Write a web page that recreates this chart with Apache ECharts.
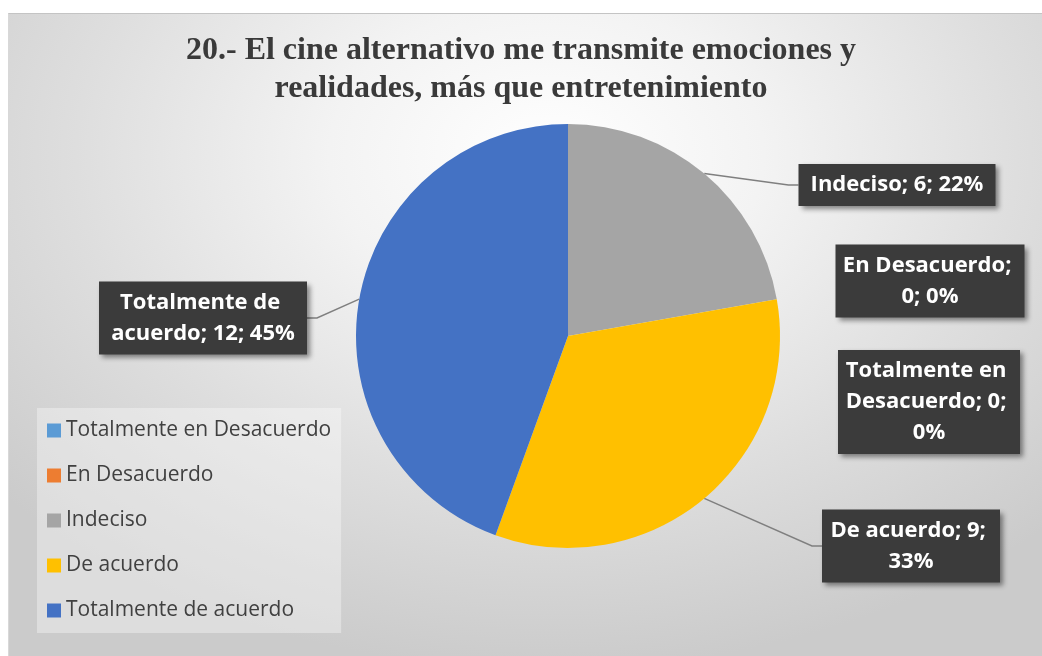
<!DOCTYPE html>
<html>
<head>
<meta charset="utf-8">
<script src="https://cdn.jsdelivr.net/npm/echarts@6/dist/echarts.min.js"></script>
<style>
    html, body { margin: 0; padding: 0; background: #fff; }
    #bg {
        position: absolute; left: 8px; top: 13px; width: 1034px; height: 643px;
        border-top: 1px solid #c4c4c4; border-left: 1px solid #d8d8d8;
        background: radial-gradient(ellipse 70% 80% at 52% 22%, #ffffff 0%, #f3f3f3 30%, #dedede 65%, #cbcbcb 100%);
    }
    #pieChart { position: absolute; left: 0; top: 0; width: 1042px; height: 656px; }
</style>
</head>
<body>
<div id="bg"></div>
<div id="pieChart"></div>
<script>
    // categories and counts
    const categories = ['Totalmente en Desacuerdo', 'En Desacuerdo', 'Indeciso', 'De acuerdo', 'Totalmente de acuerdo']
    const counts = [0, 0, 6, 9, 12]
    const colors = ['#5B9BD5', '#ED7D31', '#A5A5A5', '#FFC000', '#4472C4']
    // where each data label box sits (center) and how wide its text is
    const labelPos = [[929, 402], [930, 281], [897, 185], [911, 546], [203, 318]]
    const labelWidth = [172, 179, 187, 168, 198]

    const myChart = echarts.init(document.getElementById('pieChart'))
    const option = {
        color: colors,
        title: {
            text: '20.- El cine alternativo me transmite emociones y\nrealidades, más que entretenimiento',
            left: 'center',
            top: 27,
            textStyle: {
                fontFamily: 'Liberation Serif',
                fontWeight: 'bold',
                fontSize: 32,
                lineHeight: 38,
                color: '#3a3a3a'
            }
        },
        legend: {
            orient: 'vertical',
            left: 37,
            top: 408,
            padding: [12, 10, 12, 10],
            itemGap: 24,
            itemWidth: 14,
            itemHeight: 14,
            icon: 'rect',
            backgroundColor: 'rgba(255,255,255,0.35)',
            data: categories,
            textStyle: {
                fontFamily: 'Open Sans',
                fontSize: 21,
                lineHeight: 21,
                color: '#404040'
            }
        },
        series: [{
            type: 'pie',
            center: [568, 336],
            radius: 212,
            startAngle: 90,
            clockwise: true,
            animation: false,
            percentPrecision: 0,
            data: categories.map((name, i) => ({
                name: name,
                value: counts[i],
                label: { width: labelWidth[i] },
                labelLine: { show: counts[i] > 0 }
            })),
            label: {
                show: true,
                formatter: '{b}; {c}; {d}%',
                overflow: 'break',
                fontFamily: 'Open Sans',
                fontWeight: 'bold',
                fontSize: 22,
                lineHeight: 31,
                color: '#ffffff',
                align: 'center',
                backgroundColor: '#3b3b3b',
                padding: [6, 5, 5, 5],
                shadowColor: 'rgba(0,0,0,0.45)',
                shadowBlur: 5,
                shadowOffsetX: 3,
                shadowOffsetY: 3
            },
            labelLine: {
                show: true,
                length: 10,
                length2: 10,
                lineStyle: { color: '#7f7f7f', width: 1.5 }
            },
            labelLayout: function (params) {
                const p = labelPos[params.dataIndex]
                return { x: p[0], y: p[1], align: 'center', verticalAlign: 'middle' }
            }
        }]
    }
    myChart.setOption(option)
</script>
</body>
</html>
